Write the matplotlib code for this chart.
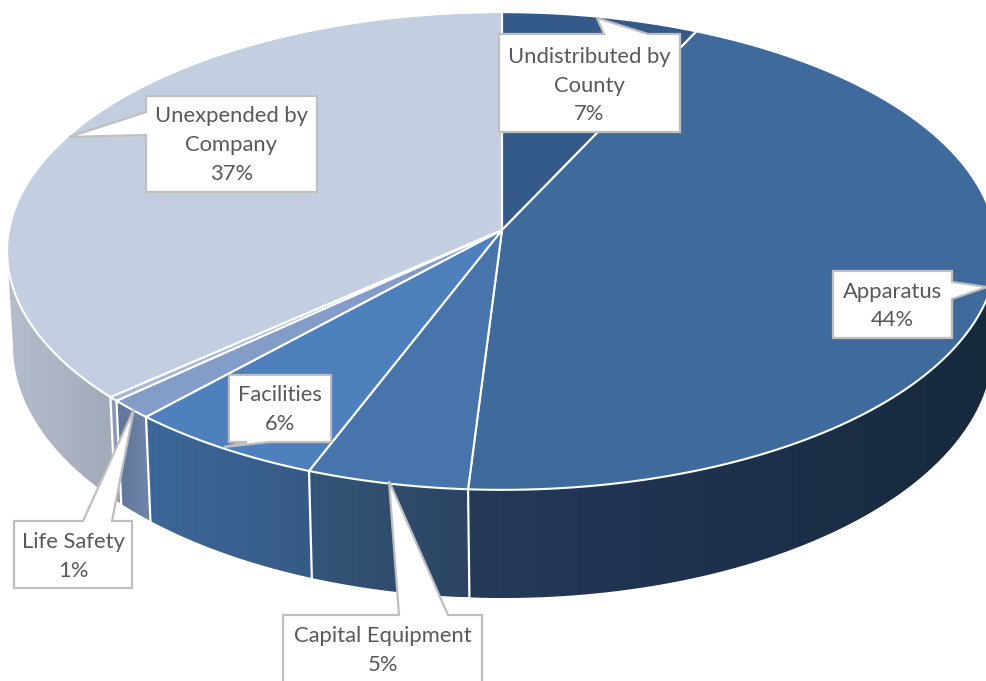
import numpy as np
import matplotlib
matplotlib.use("Agg")
import matplotlib.pyplot as plt
from matplotlib.patches import Polygon

# Budget shares, clockwise from twelve o'clock
categories = ["Undistributed by\nCounty", "Apparatus", "Capital Equipment",
              "Facilities", "Life Safety", "", "Unexpended by\nCompany"]
shares = [7.0, 44.0, 4.85, 5.95, 1.35, 0.3, 36.55]
top_colors = ["#345a8a", "#3f6a9c", "#4674ab", "#4e80bd", "#849cc8", "#a9b6d5", "#c4cee1"]
wall_left = ["#24405f", "#25395a", "#355679", "#3d6899", "#5f7499", "#8d9ab4", "#b5bdcd"]
wall_right = ["#24405f", "#16293d", "#2b4462", "#365a87", "#7085ab", "#8d9ab4", "#a2aaba"]

# Pie geometry in pixel units: tilted disc with perspective
CX, CY = 502.0, 230.0
AX, BY, K = 493.0, 237.0, 0.0879
# Top outline as a plain ellipse, and the lower edge of the side wall
TOP_EX, TOP_EY, TOP_EA, TOP_EB = 502.0, 251.0, 495.0, 239.0
LOW_EX, LOW_EY, LOW_EA, LOW_EB = 503.0, 346.0, 490.0, 252.0


def rim(theta):
    """Point on the top disc for a clockwise angle in degrees from the back."""
    t = np.radians(theta)
    x, y = np.sin(t), -np.cos(t)
    d = 1 - K * y
    return CX + AX * x / d, CY + BY * y / d


def base(theta):
    """Matching point on the lower edge of the side wall."""
    x, y = rim(theta)
    s = np.arctan2((x - TOP_EX) / TOP_EA, (TOP_EY - y) / TOP_EB)
    return LOW_EX + LOW_EA * np.sin(s), LOW_EY - LOW_EB * np.cos(s)


fig = plt.figure(figsize=(9.87, 6.81), dpi=100)
ax = fig.add_axes([0, 0, 1, 1])
ax.set_axis_off()

edges = np.concatenate([[0], np.cumsum(shares)]) * 360.0 / sum(shares)

# Side walls, each with a horizontal gradient
for i in range(len(shares)):
    a0, a1 = max(edges[i], 95.0), min(edges[i + 1], 265.0)
    if a1 <= a0:
        continue
    th = np.linspace(a0, a1, 200)
    tx, ty = rim(th)
    bx, by = base(th)
    outline = np.column_stack([np.r_[tx, bx[::-1]], np.r_[ty, by[::-1]]])
    clip = Polygon(outline, closed=True, transform=ax.transData, fc="none", ec="none")
    ax.add_patch(clip)
    c0 = np.array(matplotlib.colors.to_rgb(wall_left[i]))
    c1 = np.array(matplotlib.colors.to_rgb(wall_right[i]))
    w = np.linspace(0, 1, 256)[None, :, None]
    grad = c0[None, None, :] * (1 - w) + c1[None, None, :] * w
    im = ax.imshow(grad, extent=[outline[:, 0].min(), outline[:, 0].max(),
                                 outline[:, 1].max(), outline[:, 1].min()],
                   aspect="auto", interpolation="bilinear", zorder=1)
    im.set_clip_path(clip)

# White separators between wall panels
for e in edges[1:-1]:
    if 95 < e < 265:
        p, q = rim(e), base(e)
        ax.plot([p[0], q[0]], [p[1], q[1]], color="white", lw=1.6, zorder=2)

# Top faces
for i in range(len(shares)):
    th = np.linspace(edges[i], edges[i + 1], 240)
    x, y = rim(th)
    verts = np.column_stack([np.r_[CX, x], np.r_[CY, y]])
    ax.add_patch(Polygon(verts, closed=True, fc=top_colors[i], ec="white",
                         lw=1.5, joinstyle="round", zorder=3))

# Data callouts: box (left, top, right, bottom), pointer tip, and pointer base
callouts = {
    0: ((499, 34, 680, 132), (597, 18), ((604, 34), (648, 34))),
    1: ((833, 271, 952, 338), (987, 287), ((952, 282), (952, 299))),
    2: ((283, 615, 482, 700), (389, 481), ((399, 615), (448, 615))),
    3: ((229, 375, 331, 442), (224, 447), ((247, 442), (270, 442))),
    4: ((14, 521, 132, 588), (134, 409), ((83, 521), (112, 521))),
    6: ((146, 96, 317, 192), (69, 137), ((146, 112), (146, 135))),
}
text_y = {0: 85.5, 1: 306, 2: 650.5, 3: 409.5, 4: 556.5, 6: 145}


def callout_outline(box, tip, foot):
    l, t, r, b = box
    p, q = foot
    if p[1] == t and q[1] == t:
        return [(l, t), p, tip, q, (r, t), (r, b), (l, b)]
    if p[0] == r:
        return [(l, t), (r, t), p, tip, q, (r, b), (l, b)]
    if p[1] == b:
        return [(l, t), (r, t), (r, b), q, tip, p, (l, b)]
    return [(l, t), (r, t), (r, b), (l, b), q, tip, p]


for i, (box, tip, foot) in callouts.items():
    ax.add_patch(Polygon(callout_outline(box, tip, foot), closed=True, fc="white",
                         ec="#bfbfbf", lw=1.6, joinstyle="miter", zorder=5))
    ax.text((box[0] + box[2]) / 2, text_y[i], f"{categories[i]}\n{shares[i]:.0f}%",
            ha="center", va="center", ma="center", family="Lato", fontsize=15.8,
            color="#595959", linespacing=1.55, zorder=6)

ax.set_xlim(0, 987)
ax.set_ylim(681, 0)
fig.savefig("out.png", dpi=100, facecolor="white")
